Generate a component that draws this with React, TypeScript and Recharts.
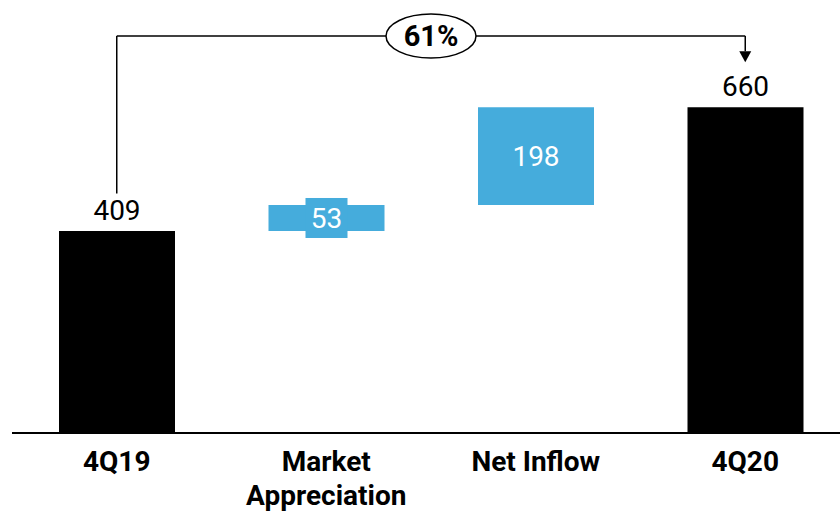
import React from 'react';
import { BarChart, Bar, XAxis, YAxis, Cell, LabelList, ReferenceLine } from 'recharts';

const categories = ['4Q19', 'Market Appreciation', 'Net Inflow', '4Q20'];
const baseValues = [0, 409, 462, 0];
const deltaValues = [409, 53, 198, 660];
const isTotal = [true, false, false, true];
const growthLabel = '61%';

const BLUE = '#45ACDC';
const FONT = 'Roboto, "Noto Sans", sans-serif';

const data = categories.map((name, i) => ({
  name,
  base: baseValues[i],
  value: deltaValues[i],
  total: isTotal[i],
}));

const CategoryTick = ({ x, y, payload }: any) => {
  const text: string = payload.value;
  const lines = text.length > 12 ? text.split(' ') : [text];
  return (
    <text x={x} y={y} textAnchor="middle" fontFamily={FONT} fontWeight={700} fontSize={28} fill="#000">
      {lines.map((l, i) => (
        <tspan key={i} x={x} dy={i === 0 ? 30 : 34}>{l}</tspan>
      ))}
    </text>
  );
};

const ValueLabel = ({ x, y, width, height, value, index }: any) => {
  const cx = x + width / 2;
  if (isTotal[index]) {
    return (
      <text x={cx} y={y - 11} textAnchor="middle" fontFamily={FONT} fontSize={28} fill="#000">
        {value}
      </text>
    );
  }
  const cy = y + height / 2;
  const boxH = Math.max(height, 40);
  return (
    <g>
      {height < 40 && <rect x={cx - 21} y={cy - boxH / 2} width={42} height={boxH} fill={BLUE} />}
      <text x={cx} y={cy} dy={10} textAnchor="middle" fontFamily={FONT} fontSize={28} fill="#fff">
        {value}
      </text>
    </g>
  );
};

const Bubble = ({ viewBox }: any) => {
  const cx = viewBox.x + viewBox.width / 2;
  const cy = viewBox.y + viewBox.height / 2;
  return (
    <g>
      <ellipse cx={cx} cy={cy} rx={45} ry={22} fill="#fff" stroke="#000" strokeWidth={1.5} />
      <text x={cx} y={cy} dy={10} textAnchor="middle" fontFamily={FONT} fontWeight={700} fontSize={29} fill="#000">
        {growthLabel}
      </text>
    </g>
  );
};

const ArrowHead = ({ viewBox }: any) => {
  const cx = viewBox.x + viewBox.width / 2;
  const by = viewBox.y + viewBox.height;
  return <path d={`M${cx - 6},${by} L${cx + 6},${by} L${cx},${by + 11} Z`} fill="#000" />;
};

export default function App() {
  return (
    <div style={{ position: 'fixed', left: 0, top: 0, width: 840, height: 512, overflow: 'hidden', background: '#fff' }}>
      <BarChart
        width={850}
        height={512}
        data={data}
        margin={{ top: 1, right: 0, left: 12, bottom: 49 }}
        barCategoryGap={0}
      >
        <XAxis
          dataKey="name"
          height={30}
          interval={0}
          tickLine={false}
          axisLine={{ stroke: '#000', strokeWidth: 2 }}
          tick={<CategoryTick />}
        />
        <YAxis hide domain={[0, 875]} />
        <Bar dataKey="base" stackId="w" fill="transparent" isAnimationActive={false} barSize={116} />
        <Bar dataKey="value" stackId="w" isAnimationActive={false} barSize={116}>
          {data.map((d, i) => (
            <Cell key={i} fill={d.total ? '#000' : BLUE} />
          ))}
          <LabelList dataKey="value" content={<ValueLabel />} />
        </Bar>
        <ReferenceLine
          segment={[{ x: categories[0], y: 485 }, { x: categories[0], y: 804 }]}
          stroke="#000"
          strokeWidth={1.5}
        />
        <ReferenceLine
          segment={[{ x: categories[0], y: 804 }, { x: categories[3], y: 804 }]}
          stroke="#000"
          strokeWidth={1.5}
          label={<Bubble />}
        />
        <ReferenceLine
          segment={[{ x: categories[3], y: 804 }, { x: categories[3], y: 773 }]}
          stroke="#000"
          strokeWidth={1.5}
          label={<ArrowHead />}
        />
      </BarChart>
    </div>
  );
}
